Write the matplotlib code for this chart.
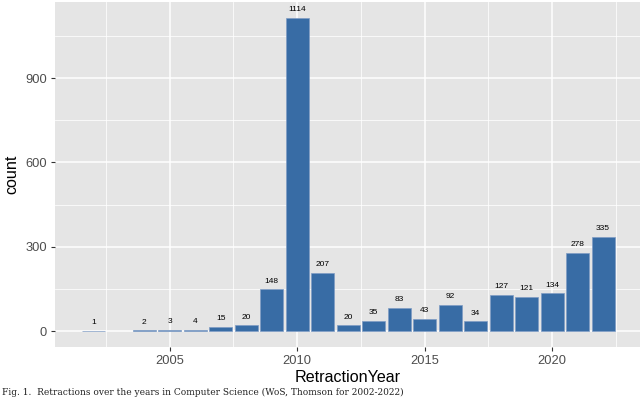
import matplotlib
matplotlib.use("Agg")
import matplotlib.pyplot as plt

plt.rcParams["font.family"] = ["Liberation Sans", "DejaVu Sans"]

years = [2002, 2004, 2005, 2006, 2007, 2008, 2009, 2010, 2011, 2012,
         2013, 2014, 2015, 2016, 2017, 2018, 2019, 2020, 2021, 2022]
counts = [1, 2, 3, 4, 15, 20, 148, 1114, 207, 20,
          35, 83, 43, 92, 34, 127, 121, 134, 278, 335]
xticks = [2005, 2010, 2015, 2020]
yticks = [0, 300, 600, 900]
caption = "Fig. 1.  Retractions over the years in Computer Science (WoS, Thomson for 2002-2022)"

fig = plt.figure(figsize=(6.4, 3.98), dpi=100)
ax = fig.add_axes([0.086, 0.129, 0.916, 0.865])
ax.set_facecolor("#E5E5E5")

ax.bar(years, counts, width=0.9, color="#386CA5",
       edgecolor="#7F9CC4", linewidth=0.5, zorder=3)
for x, c in zip(years, counts):
    ax.annotate(str(c), (x, c), xytext=(0, 6), textcoords="offset points",
                ha="center", va="center", fontsize=6, color="black",
                zorder=4)

ax.set_xlim(2000.5, 2023.5)
ax.set_ylim(-55.7, 1169.7)
ax.set_xticks(xticks)
ax.set_yticks(yticks)
ax.set_xticks([2002.5, 2007.5, 2012.5, 2017.5, 2022.5], minor=True)
ax.set_yticks([150, 450, 750, 1050], minor=True)
ax.grid(which="major", color="white", linewidth=1.1, zorder=1)
ax.grid(which="minor", color="white", linewidth=0.55, zorder=1)
ax.set_axisbelow(True)
for s in ax.spines.values():
    s.set_visible(False)
ax.tick_params(which="major", length=3, width=0.8, color="#333333",
               labelsize=9.3, labelcolor="#4D4D4D", pad=3)
ax.tick_params(which="minor", length=0)

ax.set_xlabel("RetractionYear", fontsize=11.6, color="black", labelpad=2)
ax.set_ylabel("count", fontsize=11.6, color="black", labelpad=4)

fig.text(0.003, 0.003, caption, fontsize=6.5, family="DejaVu Serif",
         color="#222222", ha="left", va="bottom")

fig.savefig("out.png", dpi=100)
